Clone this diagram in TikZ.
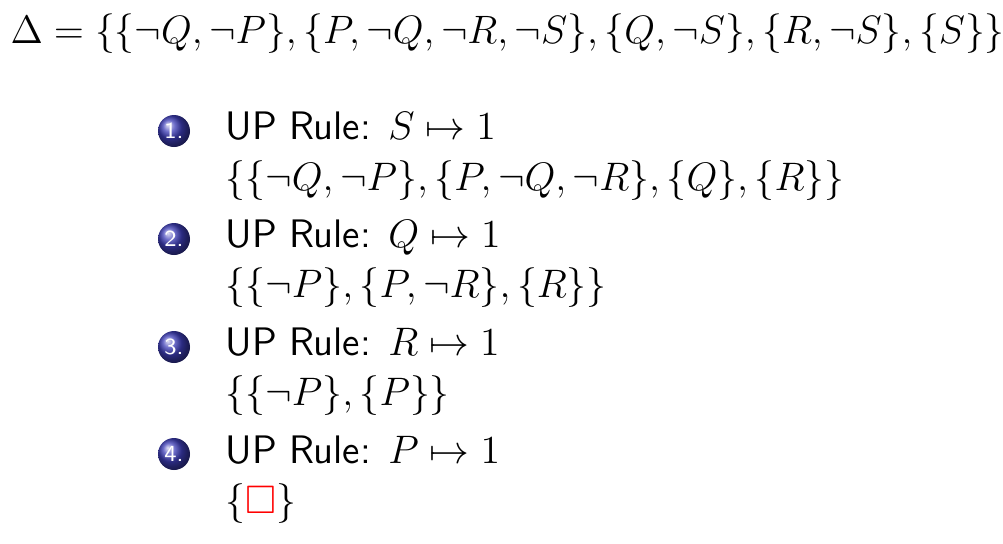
\RequirePackage{fix-cm}
\documentclass[tikz,border=0pt]{standalone}
\usepackage{amssymb}
\usetikzlibrary{shadings}
\definecolor{ballc}{rgb}{0.24,0.24,0.72}
\newcommand{\uprule}{\sffamily UP Rule: }
\begin{document}
\begin{tikzpicture}[x=0.347pt,y=-0.347pt,
  txt/.style={anchor=base west,inner sep=0pt,font=\fontsize{13.8}{16}\selectfont},
  toptxt/.style={anchor=base west,inner sep=0pt,font=\fontsize{13.75}{16}\selectfont},
  ballnum/.style={circle,inner sep=0pt,minimum size=32*0.347pt,ball color=ballc,text=white,font=\fontsize{8}{9}\selectfont\sffamily}]
\useasboundingbox (0,0) rectangle (1003,543);
\node[toptxt] (delta) at (10,43) {$\Delta = \{\{\neg Q,\neg P\},\{P,\neg Q,\neg R,\neg S\},\{Q,\neg S\},\{R,\neg S\},\{S\}\}$};
\node[ballnum] (b1) at (174,131) {1.};
\node[txt] (r1) at (225,139) {\uprule$S\mapsto 1$};
\node[txt] (s1) at (225,190) {$\{\{\neg Q,\neg P\},\{P,\neg Q,\neg R\},\{Q\},\{R\}\}$};
\node[ballnum] (b2) at (174,239) {2.};
\node[txt] (r2) at (225,247) {\uprule$Q\mapsto 1$};
\node[txt] (s2) at (225,297) {$\{\{\neg P\},\{P,\neg R\},\{R\}\}$};
\node[ballnum] (b3) at (174,347) {3.};
\node[txt] (r3) at (225,355) {\uprule$R\mapsto 1$};
\node[txt] (s3) at (225,405) {$\{\{\neg P\},\{P\}\}$};
\node[ballnum] (b4) at (174,454) {4.};
\node[txt] (r4) at (225,463) {\uprule$P\mapsto 1$};
\node[txt] (s4) at (225,513) {$\{\textcolor{red}{\square}\}$};
\end{tikzpicture}
\end{document}
